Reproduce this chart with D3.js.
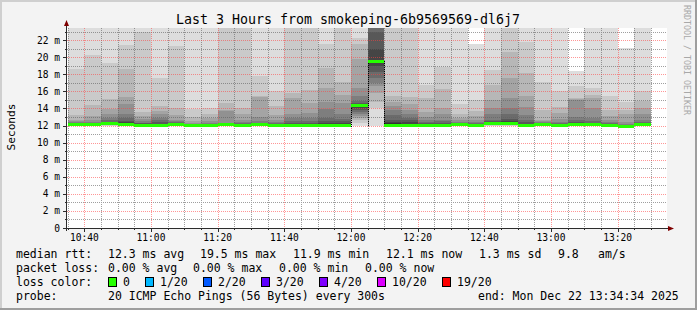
<!DOCTYPE html>
<html>
<head>
<meta charset="utf-8">
<script src="https://cdn.jsdelivr.net/npm/d3@7"></script>
<style>
html, body { margin: 0; padding: 0; background: #f3f3f3; }
svg { display: block; font-family: "DejaVu Sans Mono", monospace; }
</style>
</head>
<body>
<svg id="chart" width="697" height="310"></svg>
<script>
// column end times (each column = one 5 minute step)
var endTimes = ["10:40", "10:45", "10:50", "10:55", "11:00", "11:05", "11:10", "11:15", "11:20", "11:25",
                "11:30", "11:35", "11:40", "11:45", "11:50", "11:55", "12:00", "12:05", "12:10", "12:15",
                "12:20", "12:25", "12:30", "12:35", "12:40", "12:45", "12:50", "12:55", "13:00", "13:05",
                "13:10", "13:15", "13:20", "13:25", "13:30"];

// median rtt per step (ms)
var medians = [12.1, 12.1, 12.25, 12.1, 12.0, 12.0, 12.1, 12.0, 12.0, 12.1,
               12.0, 12.1, 12.0, 12.0, 12.0, 12.0, 12.0, 14.3, 19.5, 12.05,
               12.0, 12.0, 12.0, 12.15, 12.0, 12.2, 12.25, 12.0, 12.15, 12.05,
               12.1, 12.1, 12.0, 11.9, 12.1];

// 20 sorted ping times per step (ms)
var pings = [
  [11.9, 11.95, 12.0, 12.0, 12.05, 12.05, 12.05, 12.1, 12.1, 12.1, 12.2, 12.25, 12.3, 12.35, 12.4, 12.5, 12.7, 13.2, 18.65, 24],
  [11.9, 11.95, 12.0, 12.0, 12.05, 12.05, 12.05, 12.1, 12.1, 12.1, 12.2, 12.25, 12.3, 12.35, 12.45, 12.6, 13.1, 14.4, 20.3, 24],
  [11.95, 12.0, 12.05, 12.1, 12.1, 12.15, 12.15, 12.2, 12.2, 12.2, 12.3, 12.4, 12.45, 12.6, 12.9, 13.4, 13.95, 15.15, 19.35, 24],
  [11.9, 11.95, 12.0, 12.0, 12.05, 12.05, 12.05, 12.1, 12.1, 12.1, 12.25, 12.4, 12.55, 12.9, 13.4, 14.5, 15.35, 18.65, 21.45, 24],
  [11.85, 11.9, 11.9, 11.95, 11.95, 11.95, 12.0, 12.0, 12.0, 12.0, 12.1, 12.15, 12.25, 12.35, 12.5, 12.8, 13.1, 13.6, 23.0, 24],
  [11.85, 11.9, 11.9, 11.95, 11.95, 11.95, 12.0, 12.0, 12.0, 12.0, 12.1, 12.2, 12.4, 12.6, 12.9, 13.3, 13.7, 14.3, 17.6, 24],
  [11.9, 11.95, 12.0, 12.0, 12.05, 12.05, 12.05, 12.1, 12.1, 12.1, 12.2, 12.3, 12.35, 12.4, 12.5, 12.7, 13.2, 14.1, 21.3, 24],
  [11.85, 11.9, 11.9, 11.95, 11.95, 11.95, 12.0, 12.0, 12.0, 12.0, 12.05, 12.1, 12.1, 12.15, 12.2, 12.3, 12.5, 13.0, 13.9, 24],
  [11.85, 11.9, 11.9, 11.95, 11.95, 11.95, 12.0, 12.0, 12.0, 12.0, 12.05, 12.1, 12.15, 12.2, 12.3, 12.5, 12.9, 13.4, 14.1, 24],
  [11.9, 11.95, 12.0, 12.0, 12.05, 12.05, 12.05, 12.1, 12.1, 12.1, 12.15, 12.2, 12.25, 12.3, 12.35, 13.7, 13.8, 14.6, 24, 24.5],
  [11.85, 11.9, 11.9, 11.95, 11.95, 11.95, 12.0, 12.0, 12.0, 12.0, 12.1, 12.15, 12.2, 12.3, 12.4, 12.7, 13.3, 14.1, 24, 24.5],
  [11.9, 11.95, 12.0, 12.0, 12.05, 12.05, 12.05, 12.1, 12.1, 12.1, 12.15, 12.2, 12.25, 12.3, 12.5, 13.0, 15.35, 15.45, 17.8, 24],
  [11.85, 11.9, 11.9, 11.95, 11.95, 11.95, 12.0, 12.0, 12.0, 12.0, 12.1, 12.15, 12.2, 12.3, 12.45, 12.7, 13.2, 14.3, 16.0, 24],
  [11.85, 11.9, 11.9, 11.95, 11.95, 11.95, 12.0, 12.0, 12.0, 12.0, 12.1, 12.2, 12.3, 12.5, 12.9, 13.4, 15.2, 15.8, 24, 24.5],
  [11.85, 11.9, 11.9, 11.95, 11.95, 11.95, 12.0, 12.0, 12.0, 12.0, 12.1, 12.2, 12.3, 12.5, 12.9, 13.5, 14.6, 16.2, 24, 24.5],
  [11.85, 11.9, 11.9, 11.95, 11.95, 11.95, 12.0, 12.0, 12.0, 12.0, 12.15, 12.3, 12.5, 12.9, 13.9, 14.8, 16.4, 18.7, 21.6, 24],
  [11.85, 11.9, 11.9, 11.95, 11.95, 11.95, 12.0, 12.0, 12.0, 12.0, 12.15, 12.3, 12.5, 12.8, 13.3, 14.6, 15.6, 17.1, 24, 24.5],
  [11.94, 12.35, 12.7, 12.9, 13.1, 13.35, 13.6, 13.8, 14.0, 14.25, 14.38, 14.45, 14.6, 14.9, 15.5, 16.4, 19.75, 21.5, 22.25, 24],
  [11.95, 14.0, 14.8, 15.8, 16.6, 17.0, 17.6, 18.3, 19.0, 19.4, 19.6, 21.0, 22.9, 24, 24, 24, 24, 24.5, 24.5, 25],
  [11.85, 11.9, 11.9, 11.95, 11.95, 11.95, 12.0, 12.0, 12.0, 12.0, 12.25, 12.45, 12.65, 13.2, 13.8, 14.3, 14.8, 15.4, 24, 24.5],
  [11.85, 11.9, 11.9, 11.95, 11.95, 11.95, 12.0, 12.0, 12.0, 12.0, 12.2, 12.4, 12.65, 12.9, 13.3, 13.8, 14.5, 15.3, 24, 24.5],
  [11.85, 11.9, 11.9, 11.95, 11.95, 11.95, 12.0, 12.0, 12.0, 12.0, 12.1, 12.2, 12.3, 12.4, 12.6, 13.0, 13.6, 15.2, 16.7, 24],
  [11.85, 11.9, 11.9, 11.95, 11.95, 11.95, 12.0, 12.0, 12.0, 12.0, 12.1, 12.2, 12.35, 12.5, 12.7, 13.3, 14.0, 16.3, 18.9, 24],
  [11.9, 12.0, 12.05, 12.05, 12.1, 12.1, 12.1, 12.15, 12.15, 12.15, 12.2, 12.25, 12.3, 12.35, 12.45, 12.6, 12.9, 13.4, 14.5, 24],
  [11.85, 11.9, 11.9, 11.95, 11.95, 11.95, 12.0, 12.0, 12.0, 12.0, 12.1, 12.15, 12.2, 12.3, 12.4, 12.6, 13.1, 13.7, 15.0, 21.6],
  [11.95, 12.0, 12.05, 12.1, 12.1, 12.15, 12.15, 12.15, 12.2, 12.2, 12.3, 12.35, 12.5, 12.7, 13.3, 14.0, 15.0, 16.7, 18.5, 24],
  [11.95, 12.0, 12.05, 12.1, 12.1, 12.15, 12.15, 12.2, 12.2, 12.2, 12.35, 12.5, 12.8, 13.4, 14.1, 15.2, 17.6, 20.6, 24, 24.5],
  [11.85, 11.9, 11.9, 11.95, 11.95, 11.95, 12.0, 12.0, 12.0, 12.0, 12.1, 12.2, 12.4, 12.6, 13.2, 14.2, 15.5, 18.2, 21.8, 24],
  [11.9, 12.0, 12.05, 12.05, 12.1, 12.1, 12.1, 12.15, 12.15, 12.15, 12.2, 12.25, 12.3, 12.35, 12.4, 12.55, 12.7, 13.8, 17.1, 24],
  [11.85, 11.9, 11.95, 11.95, 12.0, 12.0, 12.0, 12.05, 12.05, 12.05, 12.1, 12.15, 12.2, 12.3, 12.45, 12.8, 13.5, 14.2, 16.0, 24],
  [11.9, 11.95, 12.0, 12.0, 12.05, 12.05, 12.05, 12.1, 12.1, 12.1, 12.15, 12.25, 12.4, 12.6, 13.0, 15.0, 15.1, 15.2, 16.6, 18.4],
  [11.9, 11.95, 12.0, 12.0, 12.05, 12.05, 12.05, 12.1, 12.1, 12.1, 12.15, 12.25, 12.35, 12.5, 12.9, 14.1, 15.2, 15.6, 16.4, 24],
  [11.85, 11.9, 11.9, 11.95, 11.95, 11.95, 12.0, 12.0, 12.0, 12.0, 12.1, 12.15, 12.2, 12.3, 12.4, 12.65, 13.1, 13.8, 15.4, 24],
  [11.7, 11.75, 11.8, 11.8, 11.85, 11.85, 11.85, 11.9, 11.9, 11.9, 11.95, 12.0, 12.05, 12.1, 12.2, 12.4, 13.4, 13.8, 14.8, 21.1],
  [11.9, 11.95, 12.0, 12.0, 12.05, 12.05, 12.05, 12.1, 12.1, 12.1, 12.15, 12.2, 12.3, 12.4, 12.6, 13.3, 14.1, 14.9, 16.1, 24]
];

var yTicks = [0, 2, 4, 6, 8, 10, 12, 14, 16, 18, 20, 22];
var lossLabels = ["0", "1/20", "2/20", "3/20", "4/20", "10/20", "19/20"];
var lossColors = ["#26ff00", "#00b8ff", "#0059ff", "#5e00ff", "#7e00ff", "#dd00ff", "#ff0000"];
var rttStats = ["12.3 ms avg", "19.5 ms max", "11.9 ms min", "12.1 ms now", "1.3 ms sd", "9.8", "am/s"];
var lossStats = ["0.00 % avg", "0.00 % max", "0.00 % min", "0.00 % now"];

var plotL = 67, plotR = 667, plotT = 28, plotB = 228;
var parseT = d3.timeParse("%Y-%m-%d %H:%M");
var day = "2025-12-22 ";

var x = d3.scaleTime()
    .domain([new Date(2025, 11, 22, 10, 34, 48), new Date(2025, 11, 22, 13, 34, 48)])
    .range([plotL, plotR]);
var y = d3.scaleLinear().domain([0, 23.42]).range([plotB, plotT]);

var svg = d3.select("#chart");
var defs = svg.append("defs");

var minorCol = "rgba(95,95,95,0.6)";
var majorCol = "rgba(255,64,64,0.55)";

// background + frame
svg.append("rect").attr("width", 697).attr("height", 310).attr("fill", "#f3f3f3");
svg.append("rect").attr("x", 0).attr("y", 0).attr("width", 697).attr("height", 2).attr("fill", "#cfcfcf");
svg.append("rect").attr("x", 0).attr("y", 0).attr("width", 2).attr("height", 310).attr("fill", "#cfcfcf");
svg.append("rect").attr("x", 0).attr("y", 308).attr("width", 697).attr("height", 2).attr("fill", "#9e9e9e");
svg.append("rect").attr("x", 695).attr("y", 0).attr("width", 2).attr("height", 310).attr("fill", "#9e9e9e");

svg.append("rect").attr("x", plotL).attr("y", plotT)
    .attr("width", plotR - plotL).attr("height", plotB - plotT).attr("fill", "#ffffff");

defs.append("clipPath").attr("id", "plotclip")
    .append("rect").attr("x", plotL).attr("y", plotT)
    .attr("width", plotR - plotL).attr("height", plotB - plotT);

// smoke: band k spans ping k .. ping (19-k), darker towards the middle
var cols = svg.append("g").attr("clip-path", "url(#plotclip)")
    .selectAll("g.col")
    .data(pings)
    .enter().append("g")
    .attr("class", "col");

cols.selectAll("rect")
    .data(function(p, i) {
        var t1 = parseT(day + endTimes[i]);
        var t0 = d3.timeMinute.offset(t1, -5);
        var bands = [];
        for (var k = 0; k < 10; k++) {
            bands.push({ lo: p[k], hi: p[19 - k], k: k, t0: t0, t1: t1 });
        }
        return bands;
    })
    .enter().append("rect")
    .attr("shape-rendering", "crispEdges")
    .attr("x", function(d) { return Math.round(x(d.t0)); })
    .attr("width", function(d) { return Math.round(x(d.t1)) - Math.round(x(d.t0)); })
    .attr("y", function(d) { return Math.round(y(d.hi)); })
    .attr("height", function(d) { return Math.max(0, Math.round(y(d.lo)) - Math.round(y(d.hi))); })
    .attr("fill", function(d) {
        var g = Math.floor(190 / 10 * (10 - (d.k + 1))) + 50;
        return d3.rgb(g, g, g);
    });

// grid (dotted, drawn over the smoke)
var minorY = d3.range(1, 24).filter(function(v) { return v % 2 != 0; });
var majorY = d3.range(2, 24, 2);
var fiveMin = d3.timeMinute.every(5).range(x.domain()[0], x.domain()[1]);
var twentyMin = fiveMin.filter(function(t) { return t.getMinutes() % 20 == 0; });
var fiveOnly = fiveMin.filter(function(t) { return t.getMinutes() % 20 != 0; });

// one dotted path per grid family: each dot is a 1x1 square
function dotPath(segs) {
    var d = "";
    segs.forEach(function(s) {
        if (s.v) {
            for (var yy = plotT; yy < plotB; yy += 2) d += "M" + s.at + "," + yy + "h1v1h-1z";
        } else {
            for (var xx = plotL; xx < plotR; xx += 2) d += "M" + xx + "," + s.at + "h1v1h-1z";
        }
    });
    return d;
}

var grid = svg.append("g");
grid.append("path").attr("fill", minorCol).attr("shape-rendering", "crispEdges")
    .attr("d", dotPath(minorY.map(function(v) { return { v: false, at: Math.round(y(v)) }; })
        .concat(fiveOnly.map(function(t) { return { v: true, at: Math.round(x(t)) }; }))));
grid.append("path").attr("fill", majorCol).attr("shape-rendering", "crispEdges")
    .attr("d", dotPath(majorY.map(function(v) { return { v: false, at: Math.round(y(v)) }; })
        .concat(twentyMin.map(function(t) { return { v: true, at: Math.round(x(t)) }; }))));

// dotted steps where the median jumps
var stepSegs = "";
for (var i = 0; i < medians.length - 1; i++) {
    if (Math.abs(medians[i + 1] - medians[i]) > 1) {
        var xb = Math.round(x(parseT(day + endTimes[i])));
        var yb1 = Math.round(y(Math.max(medians[i], medians[i + 1])));
        var yb2 = Math.round(y(Math.min(pings[i][0], pings[i + 1][0])));
        for (var yy = yb1; yy < yb2; yy += 2) stepSegs += "M" + xb + "," + yy + "h1v1h-1z";
    }
}
svg.append("path").attr("d", stepSegs).attr("fill", "#000").attr("shape-rendering", "crispEdges");

// median line (loss colour, 0 loss)
svg.append("g").attr("clip-path", "url(#plotclip)")
    .selectAll("rect")
    .data(medians)
    .enter().append("rect")
    .attr("shape-rendering", "crispEdges")
    .attr("x", function(d, i) { return Math.round(x(d3.timeMinute.offset(parseT(day + endTimes[i]), -5))); })
    .attr("width", function(d, i) {
        var t1 = parseT(day + endTimes[i]);
        return Math.round(x(t1)) - Math.round(x(d3.timeMinute.offset(t1, -5)));
    })
    .attr("y", function(d) { return Math.round(y(d) - 1.5); })
    .attr("height", 3)
    .attr("fill", lossColors[0]);

// axes
var ax = svg.append("g").attr("shape-rendering", "crispEdges");
ax.append("line").attr("x1", plotL - 0.5).attr("x2", plotL - 0.5).attr("y1", plotB + 3).attr("y2", plotT - 4)
    .attr("stroke", "#2c2c2c");
ax.append("line").attr("x1", plotL - 4).attr("x2", plotR + 2).attr("y1", plotB + 0.5).attr("y2", plotB + 0.5)
    .attr("stroke", "#2c2c2c");
svg.append("path").attr("d", "M" + (plotL - 3) + "," + (plotT - 2) + "L" + (plotL + 2) + "," + (plotT - 2) + "L" + (plotL - 0.5) + "," + (plotT - 8) + "Z")
    .attr("fill", "#7f0000");
svg.append("path").attr("d", "M" + (plotR + 1) + "," + (plotB - 2) + "L" + (plotR + 1) + "," + (plotB + 3) + "L" + (plotR + 7) + "," + (plotB + 0.5) + "Z")
    .attr("fill", "#7f0000");

ax.selectAll("line.yt").data(d3.range(1, 24)).enter().append("line")
    .attr("class", "yt")
    .attr("x1", function(d) { return d % 2 == 0 ? plotL - 4 : plotL - 2; })
    .attr("x2", plotL)
    .attr("y1", function(d) { return Math.round(y(d)) + 0.5; })
    .attr("y2", function(d) { return Math.round(y(d)) + 0.5; })
    .attr("stroke", "#2c2c2c");

ax.selectAll("line.xt").data(fiveMin).enter().append("line")
    .attr("class", "xt")
    .attr("x1", function(d) { return Math.round(x(d)) + 0.5; })
    .attr("x2", function(d) { return Math.round(x(d)) + 0.5; })
    .attr("y1", plotB)
    .attr("y2", function(d) { return d.getMinutes() % 20 == 0 ? plotB + 4 : plotB + 2; })
    .attr("stroke", "#2c2c2c");

svg.selectAll("text.yl").data(yTicks).enter().append("text")
    .attr("class", "yl")
    .attr("x", 60).attr("y", function(d) { return y(d) + 3.5; })
    .attr("text-anchor", "end").attr("font-size", "9.6px").attr("fill", "#000")
    .text(function(d) { return d == 0 ? "0" : d + " m"; });

var fmt = d3.timeFormat("%H:%M");
svg.selectAll("text.xl").data(twentyMin).enter().append("text")
    .attr("class", "xl")
    .attr("x", function(d) { return x(d); }).attr("y", 241)
    .attr("text-anchor", "middle").attr("font-size", "9.6px").attr("fill", "#000")
    .text(function(d) { return fmt(d); });

// titles
svg.append("text").attr("x", 348).attr("y", 24).attr("text-anchor", "middle")
    .attr("font-size", "13.3px").attr("fill", "#000")
    .text("Last 3 Hours from smokeping-6b9569569-dl6j7");

svg.append("text").attr("transform", "translate(15,127) rotate(-90)")
    .attr("text-anchor", "middle").attr("font-size", "11.2px").attr("fill", "#000")
    .text("Seconds");

svg.append("text").attr("transform", "translate(684,5) rotate(90)")
    .attr("font-size", "8.3px").attr("fill", "#a8a8a8")
    .text("RRDTOOL / TOBI OETIKER");

// legend
var lg = svg.append("g").attr("font-size", "11.5px").attr("fill", "#000").style("white-space", "pre");
var rttX = [108, 200, 293, 386, 479, 558, 598];
var lossX = [108, 193, 279, 365];
var boxX = [108, 145, 203, 261, 319, 377, 442];

lg.append("text").attr("x", 16).attr("y", 258).text("median rtt:");
lg.selectAll("text.rtt").data(rttStats).enter().append("text")
    .attr("class", "rtt")
    .attr("x", function(d, i) { return rttX[i]; }).attr("y", 258).text(function(d) { return d; });

lg.append("text").attr("x", 16).attr("y", 272).text("packet loss:");
lg.selectAll("text.loss").data(lossStats).enter().append("text")
    .attr("class", "loss")
    .attr("x", function(d, i) { return lossX[i]; }).attr("y", 272).text(function(d) { return d; });

lg.append("text").attr("x", 16).attr("y", 286).text("loss color:");
lossLabels.forEach(function(l, i) {
    lg.append("rect").attr("x", boxX[i] + 0.5).attr("y", 277.5).attr("width", 8).attr("height", 9)
        .attr("fill", lossColors[i]).attr("stroke", "#000").attr("shape-rendering", "crispEdges");
    lg.append("text").attr("x", boxX[i] + 15).attr("y", 286).text(l);
});

lg.append("text").attr("x", 16).attr("y", 300).text("probe:");
lg.append("text").attr("x", 108).attr("y", 300).text("20 ICMP Echo Pings (56 Bytes) every 300s");
lg.append("text").attr("x", 478).attr("y", 300).text("end: Mon Dec 22 13:34:34 2025");
</script>
</body>
</html>
